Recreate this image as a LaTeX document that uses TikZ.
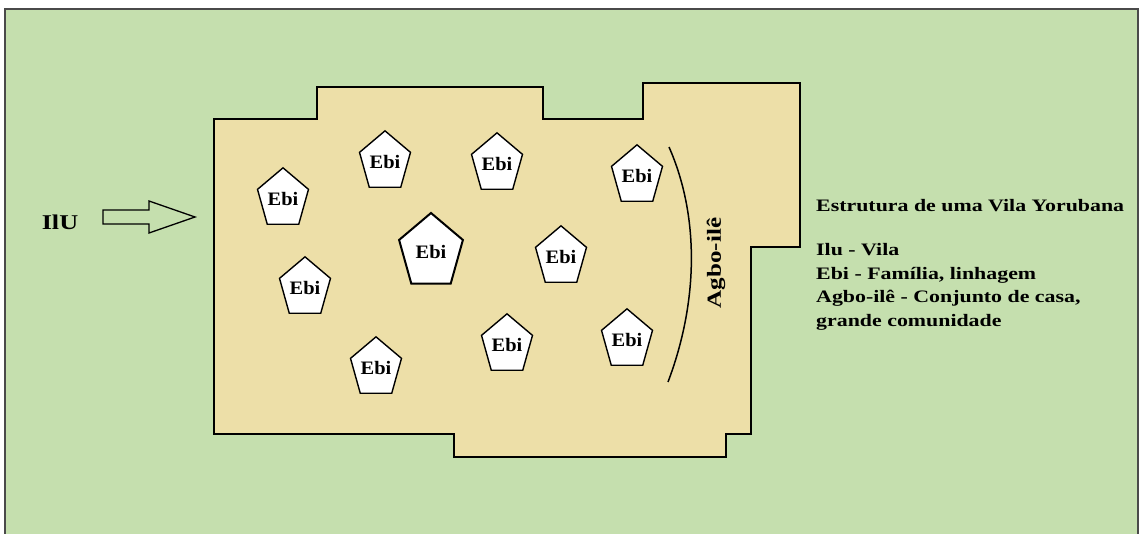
\documentclass[tikz,border=0pt]{standalone}
\usepackage{fontspec}
\newfontfamily\yorfont{Liberation Serif}[FakeStretch=1.25]
\usetikzlibrary{shapes.geometric}

\definecolor{meadow}{HTML}{C5DFAE}
\definecolor{sand}{HTML}{EDDFA8}
\definecolor{frame}{HTML}{4A4A4A}

\tikzset{
    ebi/.style={draw=black, fill=white, line width=1.4pt,
        regular polygon, regular polygon sides=5, minimum size=60pt,
        xscale=0.86, transform shape,
        inner sep=0pt, font=\yorfont\bfseries\fontsize{19}{19}\selectfont},
    bigebi/.style={ebi, line width=2pt, minimum size=78pt},
    legend/.style={anchor=base west, inner sep=0pt,
        font=\yorfont\bfseries\fontsize{17.5}{17.5}\selectfont}
}

\begin{document}
\begin{tikzpicture}[x=1pt,y=-1pt]

\useasboundingbox (0,0) rectangle (1140,534);

% Background
\fill[white] (0,0) rectangle (1140,534);
\fill[meadow] (5,9) rectangle (1138,534);
\draw[frame, line width=1.2pt] (5,534) -- (5,9) -- (1138,9) -- (1138,534);

% Village outline
\draw[fill=sand, line width=2.2pt]
    (214,119) -- (317,119) -- (317,87) -- (543,87) -- (543,119)
    -- (643,119) -- (643,83) -- (800,83) -- (800,247) -- (751,247)
    -- (751,434) -- (726,434) -- (726,457) -- (454,457) -- (454,434)
    -- (214,434) -- cycle;

% Entry arrow
\node[font=\yorfont\bfseries\fontsize{21}{21}\selectfont] (ilu) at (60,222) {IlU};
\draw[line width=1.3pt, fill=meadow]
    (103,210) -- (149,210) -- (149,201) -- (195,217)
    -- (149,233) -- (149,224) -- (103,224) -- cycle;

% Families
\node[ebi] (e1) at (283,199) {Ebi};
\node[ebi] (e2) at (385,162) {Ebi};
\node[ebi] (e3) at (497,164) {Ebi};
\node[ebi] (e4) at (637,176) {Ebi};
\node[bigebi] (e5) at (431,252) {Ebi};
\node[ebi] (e6) at (561,257) {Ebi};
\node[ebi] (e7) at (305,288) {Ebi};
\node[ebi] (e8) at (376,368) {Ebi};
\node[ebi] (e9) at (507,345) {Ebi};
\node[ebi] (e10) at (627,340) {Ebi};

% Agbo-ile border
\draw[line width=1.5pt] (669,147) .. controls (699,215) and (699,300) .. (668,382);
\node[rotate=90, font=\yorfont\bfseries\fontsize{20}{20}\selectfont] (agbo) at (716,263) {Agbo-ilê};

% Legend
\node[legend] (title) at (816,212) {Estrutura de uma Vila Yorubana};
\node[legend] (lilu) at (816,256) {Ilu - Vila};
\node[legend] (lebi) at (816,280) {Ebi - Família, linhagem};
\node[legend] (lagbo) at (816,303) {Agbo-ilê - Conjunto de casa,};
\node[legend] (lagbo2) at (816,327) {grande comunidade};

\end{tikzpicture}
\end{document}
